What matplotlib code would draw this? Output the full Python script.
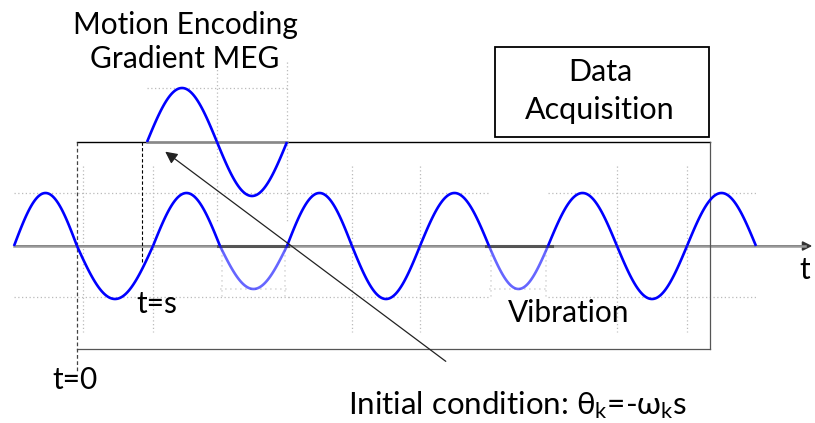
import numpy as np
import matplotlib.pyplot as plt

plt.rcParams['font.family'] = ['Lato', 'DejaVu Sans']
plt.rcParams['mathtext.fontset'] = 'custom'
plt.rcParams['mathtext.rm'] = 'Lato'
plt.rcParams['mathtext.it'] = 'Lato'

# zero crossings of the vibration wave (pixel x), first lobe positive
vib_zeros = [14, 77, 153, 220, 287, 352, 420, 489, 548, 617, 687, 756]
vib_base = 246
vib_amp = 53
faded_lobes = [3, 7]  # lobes drawn lighter
faded_amp = 43

# zero crossings of the MEG gradient
meg_zeros = [147, 217, 287]
meg_base = 142
meg_amp = 54

grid_x = [83, 153, 352, 420, 617, 687]
grid_y = [193, 297]


def half_wave(x0, x1, base, amp, sign):
    x = np.linspace(x0, x1, 60)
    y = base - sign * amp * np.sin(np.pi * (x - x0) / (x1 - x0))
    return x, y


fig = plt.figure(figsize=(8.15, 4.23), dpi=100)
ax = fig.add_axes([0, 0, 1, 1])
ax.set_xlim(0, 815)
ax.set_ylim(423, 0)
ax.axis('off')

grid_kw = dict(color='#bbbbbb', lw=0.9, ls=(0, (1, 2)), zorder=1)
# dotted guide lines
for gy in grid_y:
    ax.plot([14, 290], [gy, gy], **grid_kw)
    ax.plot([288, 490], [gy, gy], **grid_kw)
    ax.plot([548, 756], [gy, gy], **grid_kw)
for gx in grid_x:
    ax.plot([gx, gx], [166, 332], **grid_kw)
ax.plot([147, 287], [88, 88], **grid_kw)
for gx in [217, 287]:
    ax.plot([gx, gx], [62, 222], **grid_kw)
for x0, x1 in [(220, 287), (489, 548)]:
    ax.plot([x0, x1], [289, 289], color='#dddddd', lw=1.2, ls=(0, (1, 2)))
    ax.plot([x0 + 2, x0 + 2], [250, 298], color='#dddddd', lw=1.2, ls=(0, (1, 2)))
    ax.plot([x1 - 2, x1 - 2], [250, 298], color='#dddddd', lw=1.2, ls=(0, (1, 2)))

# time axis
ax.annotate('', xy=(815, vib_base), xytext=(14, vib_base),
            arrowprops=dict(arrowstyle='-|>', color='#333333', lw=1.2,
                            mutation_scale=14), zorder=2)
ax.plot([14, 805], [vib_base, vib_base], color='#999999', lw=1.8, zorder=2)
for x0, x1 in [(218, 288), (486, 552)]:
    ax.plot([x0, x1], [vib_base, vib_base], color='#555555', lw=2.2, zorder=2)

# acquisition window box
ax.plot([77, 710], [142, 142], color='black', lw=1.0, zorder=2)
ax.plot([710, 710], [142, 349], color='#555555', lw=0.9, zorder=2)
ax.plot([77, 710], [349, 349], color='#555555', lw=0.9, zorder=2)
ax.plot([77, 77], [142, 372], color='#444444', lw=0.9, ls=(0, (3, 2)), zorder=2)
ax.plot([142, 142], [142, 263], color='black', lw=0.8, ls=(0, (3, 2)), zorder=2)
ax.plot([147, 287], [meg_base, meg_base], color='#888888', lw=1.8, zorder=2)

# vibration wave
for i in range(len(vib_zeros) - 1):
    sign = 1 if i % 2 == 0 else -1
    faded = i in faded_lobes
    x, y = half_wave(vib_zeros[i], vib_zeros[i + 1], vib_base,
                     faded_amp if faded else vib_amp, sign)
    ax.plot(x, y, color='#0000ff', lw=1.9, alpha=0.6 if faded else 1.0,
            zorder=3, solid_capstyle='butt')

# MEG gradient
for i in range(len(meg_zeros) - 1):
    sign = 1 if i % 2 == 0 else -1
    x, y = half_wave(meg_zeros[i], meg_zeros[i + 1], meg_base, meg_amp, sign)
    ax.plot(x, y, color='#0000ff', lw=1.9, zorder=3, solid_capstyle='butt')

# data acquisition box
ax.add_patch(plt.Rectangle((495, 47), 214, 90, fill=False, ec='black', lw=1.3))
ax.text(600, 91, 'Data\nAcquisition', ha='center', va='center', fontsize=22,
        linespacing=1.4)

# arrow for the initial condition
ax.annotate('', xy=(163, 150), xytext=(448, 363),
            arrowprops=dict(arrowstyle='-|>', color='#222222', lw=0.9,
                            mutation_scale=18), zorder=4)

fs = 21.5
ax.text(185, 42, 'Motion Encoding\nGradient MEG', ha='center', va='center',
        fontsize=fs, linespacing=1.25)
ax.text(157, 304, 't=s', ha='center', va='center', fontsize=fs)
ax.text(75, 380, 't=0', ha='center', va='center', fontsize=fs)
ax.text(569, 313, 'Vibration', ha='center', va='center', fontsize=fs)
ax.text(805, 270, 't', ha='center', va='center', fontsize=fs)
ax.text(518, 405, r'Initial condition: θ$_\mathrm{k}$=-ω$_\mathrm{k}$s',
        ha='center', va='center', fontsize=22.5)

fig.savefig('out.png', dpi=100)
